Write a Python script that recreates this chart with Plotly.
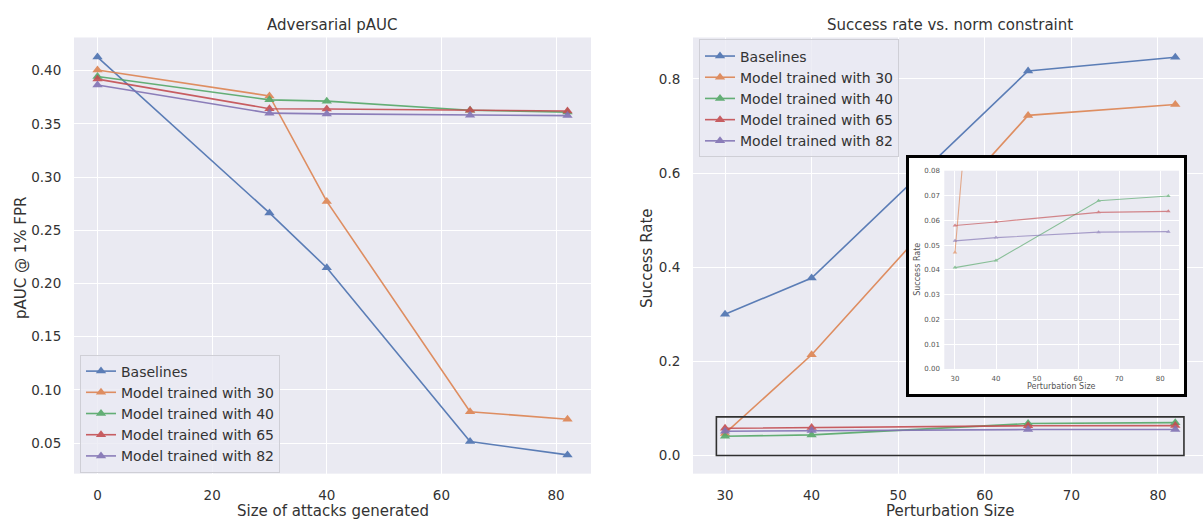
import plotly.graph_objects as go

# ---- data -------------------------------------------------------------
series_names = [
    "Baselines",
    "Model trained with 30",
    "Model trained with 40",
    "Model trained with 65",
    "Model trained with 82",
]

# Adversarial pAUC @ 1% FPR vs. size of attacks generated
attack_sizes = [0, 30, 40, 65, 82]
pauc_baselines = [0.4127, 0.2663, 0.2148, 0.0515, 0.0390]
pauc_model_30 = [0.4006, 0.3762, 0.2771, 0.0796, 0.0725]
pauc_model_40 = [0.3944, 0.3725, 0.3713, 0.3627, 0.3610]
pauc_model_65 = [0.3920, 0.3642, 0.3639, 0.3627, 0.3620]
pauc_model_82 = [0.3864, 0.3600, 0.3593, 0.3580, 0.3577]

# Success rate vs. perturbation size (norm constraint)
perturbation_sizes = [30, 40, 65, 82]
success_baselines = [0.300, 0.377, 0.817, 0.846]
success_model_30 = [0.0470, 0.214, 0.7225, 0.7455]
success_model_40 = [0.0409, 0.0438, 0.0679, 0.0698]
success_model_65 = [0.0579, 0.0593, 0.0632, 0.0636]
success_model_82 = [0.0517, 0.0530, 0.0552, 0.0554]

pauc_series = [pauc_baselines, pauc_model_30, pauc_model_40, pauc_model_65, pauc_model_82]
success_series = [success_baselines, success_model_30, success_model_40,
                  success_model_65, success_model_82]

# ---- style ------------------------------------------------------------
W, H = 1203, 519
colors = ["#4C72B0", "#DD8452", "#55A868", "#C44E52", "#8172B3"]
BG = "#EAEAF2"
TEXT = "#333333"
FONT = "DejaVu Sans"
INSET_YMAX = 0.08


def px_x(p):
    return p / W


def px_y(p):
    return (H - p) / H


fig = go.Figure()

# left panel
for name, ys, c in zip(series_names, pauc_series, colors):
    fig.add_trace(go.Scatter(
        x=attack_sizes, y=ys, name=name, mode="lines+markers",
        line=dict(color=c, width=1.6),
        marker=dict(symbol="triangle-up", size=9, color=c),
        opacity=0.9, xaxis="x", yaxis="y", legend="legend",
    ))

# right panel
for name, ys, c in zip(series_names, success_series, colors):
    fig.add_trace(go.Scatter(
        x=perturbation_sizes, y=ys, name=name, mode="lines+markers",
        line=dict(color=c, width=1.6),
        marker=dict(symbol="triangle-up", size=9, color=c),
        opacity=0.9, xaxis="x2", yaxis="y2", legend="legend2",
    ))

# frame of the zoomed inset (white card with black border)
fig.add_trace(go.Scatter(x=[], y=[], xaxis="x3", yaxis="y3",
                         showlegend=False, hoverinfo="skip"))

# zoomed inset: same success-rate series, small markers
for name, ys, c in zip(series_names, success_series, colors):
    fig.add_trace(go.Scatter(
        x=perturbation_sizes, y=ys, name=name, mode="lines+markers",
        line=dict(color=c, width=1.1),
        marker=dict(symbol="triangle-up", size=4, color=c),
        opacity=0.65, xaxis="x4", yaxis="y4", showlegend=False,
        cliponaxis=True,
    ))

tick_font = dict(family=FONT, size=13.5, color=TEXT)
axis_common = dict(
    showgrid=True, gridcolor="white", gridwidth=1, zeroline=False,
    showline=False, ticks="outside", tickcolor="rgba(0,0,0,0)",
    tickfont=tick_font, fixedrange=True,
)

plot_y_domain = [px_y(477), px_y(34)]

fig.update_layout(
    width=W, height=H,
    margin=dict(l=0, r=0, t=0, b=0),
    paper_bgcolor="white", plot_bgcolor=BG,
    font=dict(family=FONT, color=TEXT),
    xaxis=dict(domain=[px_x(74), px_x(591)], range=[-4.1, 86.1],
               tickvals=[0, 20, 40, 60, 80], ticklen=9, anchor="y", **axis_common),
    yaxis=dict(domain=plot_y_domain, range=[0.0214, 0.4311],
               tickvals=[0.05, 0.10, 0.15, 0.20, 0.25, 0.30, 0.35, 0.40],
               tickformat=".2f", ticklen=9, anchor="x", **axis_common),
    xaxis2=dict(domain=[px_x(693), 1.0], range=[26.3, 85.2],
                tickvals=[30, 40, 50, 60, 70, 80], ticklen=9, anchor="y2", **axis_common),
    yaxis2=dict(domain=plot_y_domain, range=[-0.0385, 0.888],
                tickvals=[0.0, 0.2, 0.4, 0.6, 0.8], tickformat=".1f",
                ticklen=9, anchor="x2", **axis_common),
    xaxis3=dict(domain=[px_x(909), px_x(1184)], range=[0, 1], anchor="y3",
                showgrid=False, zeroline=False, showticklabels=False,
                showline=True, mirror=True, linecolor="black", linewidth=2.5,
                fixedrange=True),
    yaxis3=dict(domain=[px_y(396), px_y(156)], range=[0, 1], anchor="x3",
                showgrid=False, zeroline=False, showticklabels=False,
                showline=True, mirror=True, linecolor="black", linewidth=2.5,
                fixedrange=True),
    xaxis4=dict(domain=[px_x(944.3), px_x(1179)], range=[27.4, 84.6], anchor="y4",
                tickvals=[30, 40, 50, 60, 70, 80], ticklen=3,
                showgrid=True, gridcolor="white", gridwidth=1, zeroline=False,
                ticks="outside", tickcolor="rgba(0,0,0,0)",
                tickfont=dict(family=FONT, size=7, color="#555555"), fixedrange=True),
    yaxis4=dict(domain=[px_y(370.7), px_y(169.3)], range=[0, INSET_YMAX], anchor="x4",
                tickvals=[0.0, 0.01, 0.02, 0.03, 0.04, 0.05, 0.06, 0.07, 0.08],
                tickformat=".2f", ticklen=2,
                showgrid=True, gridcolor="white", gridwidth=1, zeroline=False,
                ticks="outside", tickcolor="rgba(0,0,0,0)",
                tickfont=dict(family=FONT, size=7, color="#555555"), fixedrange=True),
    legend=dict(x=px_x(80), y=px_y(356), xanchor="left", yanchor="top",
                bgcolor="rgba(234,234,242,0.8)", bordercolor="#cfcfd6", borderwidth=1,
                font=dict(family=FONT, size=14, color=TEXT), tracegroupgap=0),
    legend2=dict(x=px_x(699), y=px_y(36), xanchor="left", yanchor="top",
                 bgcolor="rgba(234,234,242,0.8)", bordercolor="#cfcfd6", borderwidth=1,
                 font=dict(family=FONT, size=14, color=TEXT), tracegroupgap=0),
    showlegend=True,
)

# white card behind the inset axes
fig.add_shape(type="rect", xref="x3", yref="y3", x0=0, x1=1, y0=0, y1=1,
              fillcolor="white", line=dict(width=0), layer="below")

# box marking the zoomed region on the right panel
box_x0 = min(perturbation_sizes) - 1
box_x1 = max(perturbation_sizes) + 1
fig.add_shape(type="rect", xref="x2", yref="y2",
              x0=box_x0, x1=box_x1, y0=0.0, y1=0.082,
              line=dict(color="#303030", width=1.6), fillcolor="rgba(0,0,0,0)",
              layer="above")

title_font = dict(family=FONT, size=15, color=TEXT)
label_font = dict(family=FONT, size=15, color=TEXT)
small_font = dict(family=FONT, size=8, color="#555555")

annotations = [
    dict(text="Adversarial pAUC", x=px_x(332.5), y=px_y(21), font=title_font),
    dict(text="Success rate vs. norm constraint", x=px_x(950), y=px_y(21), font=title_font),
    dict(text="Size of attacks generated", x=px_x(332.5), y=px_y(504),
         yanchor="top", font=label_font),
    dict(text="Perturbation Size", x=px_x(950), y=px_y(504),
         yanchor="top", font=label_font),
    dict(text="pAUC @ 1% FPR", x=px_x(21), y=px_y(258), textangle=-90, font=label_font),
    dict(text="Success Rate", x=px_x(647), y=px_y(258), textangle=-90, font=label_font),
    dict(text="Perturbation Size", x=px_x(1061.5), y=px_y(388.5), font=small_font),
    dict(text="Success Rate", x=px_x(918), y=px_y(270), textangle=-90, font=small_font),
]
for a in annotations:
    a.setdefault("xanchor", "center")
    a.setdefault("yanchor", "middle")
    fig.add_annotation(xref="paper", yref="paper", showarrow=False, **a)

fig.write_html("out.html")
